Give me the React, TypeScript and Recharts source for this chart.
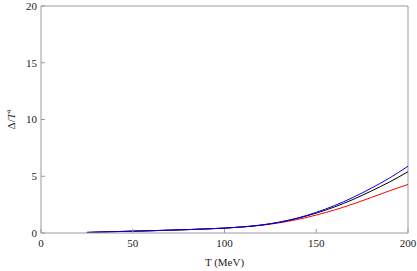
import { LineChart, Line, XAxis, YAxis, ReferenceLine } from 'recharts';

// temperature grid (MeV)
const temps = [25, 40, 50, 60, 70, 80, 90, 100, 110, 120, 130, 140, 150, 160, 170, 180, 190, 200];
// Delta / T^4 for the three curves
const blackVals = [0.05, 0.12, 0.16, 0.2, 0.25, 0.3, 0.36, 0.43, 0.54, 0.7, 0.95, 1.3, 1.75, 2.3, 2.95, 3.7, 4.5, 5.4];
const blueVals = [0.05, 0.12, 0.16, 0.2, 0.25, 0.3, 0.36, 0.43, 0.54, 0.7, 0.96, 1.33, 1.82, 2.42, 3.13, 3.95, 4.85, 5.88];
const redVals = [0.05, 0.12, 0.16, 0.2, 0.25, 0.3, 0.36, 0.43, 0.53, 0.68, 0.9, 1.2, 1.58, 2.03, 2.55, 3.13, 3.72, 4.28];

const xTicks = [0, 50, 100, 150, 200];
const yTicks = [0, 5, 10, 15, 20];

const data = temps.map((t, i) => ({ t, black: blackVals[i], blue: blueVals[i], red: redVals[i] }));

const AXIS = '#9a9a9a';
const FONT = '"Liberation Serif", "DejaVu Serif", serif';
const tickStyle = { fontSize: 11, fill: '#222', fontFamily: FONT };

export default function App() {
  return (
    <div style={{ position: 'absolute', left: 0, top: 0, background: '#fff', fontFamily: FONT }}>
      <LineChart width={417} height={271} data={data} margin={{ top: 6, right: 9, left: 0, bottom: 0 }} style={{ fontFamily: FONT }}>
        <XAxis
          dataKey="t"
          type="number"
          domain={[0, 200]}
          ticks={xTicks}
          height={38}
          stroke={AXIS}
          tickSize={-4}
          tickMargin={10}
          tick={tickStyle}
          label={{
            content: ({ viewBox }: any) => (
              <text x={viewBox.x + viewBox.width / 2} y={266} textAnchor="middle" fontSize={11} fontFamily={FONT} fill="#222">
                T (MeV)
              </text>
            ),
          }}
        />
        <YAxis
          type="number"
          domain={[0, 20]}
          ticks={yTicks}
          width={41}
          stroke={AXIS}
          tickSize={-4}
          tickMargin={8}
          tick={tickStyle}
          label={{
            content: ({ viewBox }: any) => {
              const cy = viewBox.y + viewBox.height / 2;
              return (
                <text x={15} y={cy} transform={`rotate(-90 15 ${cy})`} textAnchor="middle" fontSize={11} fontFamily={FONT} fill="#222">
                  Δ/<tspan fontStyle="italic">T</tspan>
                  <tspan fontSize={7} dy={-4}>4</tspan>
                </text>
              );
            },
          }}
        />
        <ReferenceLine y={20} stroke={AXIS} />
        <ReferenceLine x={200} stroke={AXIS} />
        <Line dataKey="red" stroke="#ff0000" strokeWidth={1} dot={false} type="monotone" isAnimationActive={false} />
        <Line dataKey="black" stroke="#000000" strokeWidth={1} dot={false} type="monotone" isAnimationActive={false} />
        <Line dataKey="blue" stroke="#0000ff" strokeWidth={1} dot={false} type="monotone" isAnimationActive={false} />
      </LineChart>
    </div>
  );
}
